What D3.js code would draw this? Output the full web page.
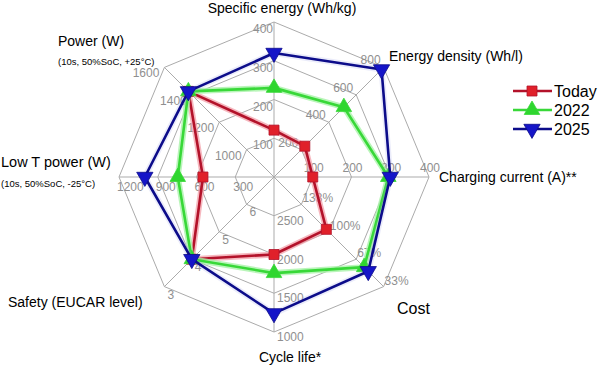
<!DOCTYPE html>
<html>
<head>
<meta charset="utf-8">
<script src="https://cdn.jsdelivr.net/npm/d3@7/dist/d3.min.js"></script>
<style>
html,body{margin:0;padding:0;background:#fff;}
svg{display:block;font-family:Arial,"Liberation Sans",sans-serif;}
</style>
</head>
<body>
<svg id="chart" width="600" height="366"></svg>
<script>
// ---- data ----
const axes = ["Specific energy (Wh/kg)", "Energy density (Wh/l)", "Charging current (A)**", "Cost",
              "Cycle life*", "Safety (EUCAR level)", "Low T power (W)", "Power (W)"];
const axisCenterValues = [0, 0, 0, 166.67, 3000, 7, 0, 800];
const axisOuterValues  = [400, 800, 400, 33.33, 1000, 3, 1200, 1600];
const tickLabels = [
  ["100", "200", "300", "400"],
  ["200", "400", "600", "800"],
  ["100", "200", "300", "400"],
  ["133%", "100%", "67%", "33%"],
  ["2500", "2000", "1500", "1000"],
  ["6", "5", "4", "3"],
  ["300", "600", "900", "1200"],
  ["1000", "1200", "1400", "1600"]
];
const seriesNames = ["Today", "2022", "2025"];
const today   = [121, 225, 100, 103, 2000, 4, 550, 1425];
const y2022   = [230, 510, 295, 57, 1760, 4, 745, 1425];
const y2025   = [320, 785, 300, 52, 1240, 4, 1000, 1425];
const seriesValues = [today, y2022, y2025];

// ---- layout ----
const cx = 274, cy = 177, R = 155;
const svg = d3.select("#chart");
const nA = axes.length;
const angle = i => i * 2 * Math.PI / nA; // clockwise from top
const scales = axes.map((a, i) => d3.scaleLinear().domain([axisCenterValues[i], axisOuterValues[i]]).range([0, R]));
const pt = (i, r) => [cx + r * Math.sin(angle(i)), cy - r * Math.cos(angle(i))];
const levelR = d3.scaleLinear().domain([0, 4]).range([0, R]);

const grid = svg.append("g").attr("stroke", "#ababab").attr("fill", "none").attr("stroke-width", 1);
[1, 2, 3, 4].forEach(l => {
  const pts = d3.range(nA).map(i => pt(i, levelR(l)));
  grid.append("path").attr("d", d3.line().curve(d3.curveLinearClosed)(pts));
});
d3.range(nA).forEach(i => {
  const p = pt(i, R);
  grid.append("line").attr("x1", cx).attr("y1", cy).attr("x2", p[0]).attr("y2", p[1]);
});

// tick label placement per axis (anchor, dx, dy)
const tickPlace = [
  ["end", -1, 11], ["end", -3, -3], ["middle", 1, -5], ["start", 1, -2],
  ["start", 3, 9], ["start", 3, 12], ["start", -2, 14], ["end", -5, 10]
];
const tg = svg.append("g").attr("fill", "#8f8f8f").attr("font-size", 12);
tickLabels.forEach((labs, i) => {
  labs.forEach((t, k) => {
    const p = pt(i, levelR(k + 1));
    tg.append("text").attr("x", p[0] + tickPlace[i][1]).attr("y", p[1] + tickPlace[i][2])
      .attr("text-anchor", tickPlace[i][0]).text(t);
  });
});

// axis titles
const titles = svg.append("g").attr("fill", "#000").attr("font-size", 14);
const titlePos = [
  [282, 13, "middle", 14], [389, 61, "start", 14], [439, 182, "start", 14], [397, 314, "start", 16],
  [290, 362, "middle", 14], [8, 307, "start", 14], [1, 167, "start", 14.5], [58, 46, "start", 14]
];
axes.forEach((a, i) => {
  titles.append("text").attr("x", titlePos[i][0]).attr("y", titlePos[i][1])
    .attr("text-anchor", titlePos[i][2]).attr("font-size", titlePos[i][3]).text(a);
});
titles.append("text").attr("x", 1).attr("y", 187).attr("font-size", 9.5).text("(10s, 50%SoC, -25°C)");
titles.append("text").attr("x", 58).attr("y", 65).attr("font-size", 9.5).text("(10s, 50%SoC, +25°C)");

// series
const lineCol = ["#b3122a", "#38d838", "#0c0c8a"];
const markCol = ["#e0202a", "#2fd62f", "#1515c8"];
const glowCol = ["#f29aa4", "#a8f2a8", "#9aa0e8"];
const glowOp = [0.7, 0.8, 0.2];
const markerShape = [d3.symbolSquare, d3.symbolTriangle, d3.symbolTriangle];
const markerRot = [0, 0, 180];
const markerSize = [100, 105, 115];

seriesValues.forEach((vals, s) => {
  const pts = vals.map((v, i) => pt(i, scales[i](v)));
  const g = svg.append("g");
  g.append("path").attr("d", d3.line().curve(d3.curveLinearClosed)(pts))
    .attr("fill", "none").attr("stroke", glowCol[s]).attr("stroke-opacity", glowOp[s]).attr("stroke-width", 6)
    .attr("stroke-linejoin", "round");
  g.append("path").attr("d", d3.line().curve(d3.curveLinearClosed)(pts))
    .attr("fill", "none").attr("stroke", lineCol[s]).attr("stroke-width", 2.6).attr("stroke-linejoin", "round");
  pts.forEach(p => {
    g.append("path").attr("d", d3.symbol().type(markerShape[s]).size(markerSize[s])())
      .attr("transform", `translate(${p[0]},${p[1]}) rotate(${markerRot[s]})`)
      .attr("fill", markCol[s]).attr("stroke", lineCol[s]).attr("stroke-width", 0.8);
  });
});

// legend
const lg = svg.append("g");
seriesNames.forEach((n, s) => {
  const y = 91 + s * 19;
  lg.append("line").attr("x1", 513).attr("x2", 552).attr("y1", y).attr("y2", y)
    .attr("stroke", lineCol[s]).attr("stroke-width", 2.4);
  lg.append("path").attr("d", d3.symbol().type(markerShape[s]).size(markerSize[s])())
    .attr("transform", `translate(532,${y}) rotate(${markerRot[s]})`)
    .attr("fill", markCol[s]).attr("stroke", lineCol[s]).attr("stroke-width", 0.8);
  lg.append("text").attr("x", 554).attr("y", y + 6).attr("font-size", 16).attr("fill", "#000").text(n);
});
</script>
</body>
</html>
